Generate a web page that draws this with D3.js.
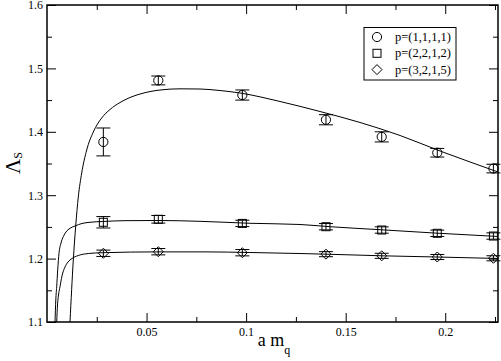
<!DOCTYPE html>
<html>
<head>
<meta charset="utf-8">
<script src="https://cdn.jsdelivr.net/npm/d3@7"></script>
<style>
  body { margin: 0; background: #fff; }
  svg { display: block; font-family: "Liberation Serif", "Times New Roman", serif; }
</style>
</head>
<body>
<svg id="chart" width="501" height="361"></svg>
<script>
// quark masses (x) shared by all three momenta
var amq = [0.0283, 0.0559, 0.0981, 0.1401, 0.1681, 0.1960, 0.2242];

var lam111 = [1.384, 1.481, 1.458, 1.419, 1.392, 1.367, 1.342];
var err111 = [0.022, 0.007, 0.008, 0.008, 0.008, 0.0068, 0.0068];
var lam2212 = [1.2573, 1.2620, 1.2555, 1.2503, 1.2451, 1.2399, 1.2356];
var err2212 = [0.009, 0.006, 0.005, 0.005, 0.005, 0.005, 0.005];
var lam3215 = [1.2084, 1.2109, 1.2093, 1.2070, 1.2044, 1.2025, 1.2005];
var err3215 = [0.005, 0.005, 0.005, 0.004, 0.004, 0.004, 0.004];

// fit curves
var fit111x = [0.01155, 0.01321, 0.01441, 0.01572, 0.01743, 0.01994, 0.02325, 0.02747, 0.03164, 0.03667,
  0.04169, 0.04671, 0.05676, 0.0668, 0.07685, 0.08689, 0.09694, 0.11703, 0.13712, 0.15721, 0.1773,
  0.19739, 0.21246, 0.2265];
var fit111y = [1.100, 1.1978, 1.2514, 1.2972, 1.3350, 1.3713, 1.3997, 1.4218, 1.4352, 1.4462,
  1.4541, 1.4596, 1.4659, 1.4678, 1.4675, 1.4651, 1.4612, 1.4478, 1.4320, 1.4147, 1.3942,
  1.3697, 1.3524, 1.3366];
var fit2212x = [0.00402, 0.00442, 0.00487, 0.00537, 0.00603, 0.00703, 0.00819, 0.00954, 0.01155, 0.01406, 0.01758,
  0.0216, 0.02777, 0.03918, 0.0559, 0.07685, 0.10196, 0.12707, 0.14214, 0.16826, 0.19588, 0.2265];
var fit2212y = [1.100, 1.1347, 1.1557, 1.1820, 1.2084, 1.2246, 1.2346, 1.2420, 1.2478, 1.2514, 1.2554,
  1.2573, 1.2585, 1.2598, 1.2601, 1.2588, 1.2557, 1.2538, 1.2503, 1.2454, 1.2401, 1.2349];
var fit3215x = [0.00487, 0.00527, 0.00578, 0.00653, 0.00753, 0.00904, 0.01055, 0.01256, 0.01572, 0.02074,
  0.02777, 0.0559, 0.07936, 0.10196, 0.12707, 0.14214, 0.16826, 0.19588, 0.2265];
var fit3215y = [1.100, 1.1268, 1.1426, 1.1557, 1.1726, 1.1868, 1.1946, 1.2002, 1.2049, 1.2080,
  1.2093, 1.2106, 1.2106, 1.2096, 1.2080, 1.2068, 1.2044, 1.2025, 1.2002];

var xMajor = [0.05, 0.1, 0.15, 0.2];
var xMinor = [0.025, 0.075, 0.125, 0.175, 0.225];
var yMajor = [1.1, 1.2, 1.3, 1.4, 1.5, 1.6];
var yMinor = [1.15, 1.25, 1.35, 1.45, 1.55];
var legendLabels = ["p=(1,1,1,1)", "p=(2,2,1,2)", "p=(3,2,1,5)"];

var svg = d3.select("#chart");
var plotL = 47, plotR = 498, plotT = 5, plotB = 322;

var x = d3.scaleLinear().domain([0, 0.2265]).range([plotL, plotR]);
var y = d3.scaleLinear().domain([1.1, 1.6]).range([plotB, plotT]);

svg.append("clipPath").attr("id", "plotclip")
  .append("rect").attr("x", plotL).attr("y", plotT)
  .attr("width", plotR - plotL).attr("height", plotB - plotT);

function zip(xs, ys) {
  return xs.map(function(v, i) { return [v, ys[i]]; });
}

// axes: major and minor ticks pointing inward, mirrored on top/right
function addAxis(axis, tx, ty, labels) {
  var g = svg.append("g")
    .attr("transform", "translate(" + tx + "," + ty + ")")
    .call(axis);
  g.select(".domain").remove();
  g.selectAll("line").attr("stroke", "#000").attr("stroke-width", 1);
  g.selectAll("text").attr("font-size", 12).attr("fill", "#000")
    .attr("font-family", "Liberation Serif, serif");
  if (!labels) g.selectAll("text").remove();
  return g;
}

addAxis(d3.axisBottom(x).tickValues(xMajor).tickSize(-9).tickPadding(5.5).tickFormat(d3.format("")), 0, plotB, true);
addAxis(d3.axisBottom(x).tickValues(xMinor).tickSize(-5), 0, plotB, false);
addAxis(d3.axisTop(x).tickValues(xMajor).tickSize(-9), 0, plotT, false);
addAxis(d3.axisTop(x).tickValues(xMinor).tickSize(-5), 0, plotT, false);
addAxis(d3.axisLeft(y).tickValues(yMajor).tickSize(-9).tickPadding(4).tickFormat(d3.format(".1f")), plotL, 0, true);
addAxis(d3.axisLeft(y).tickValues(yMinor).tickSize(-5), plotL, 0, false);
addAxis(d3.axisRight(y).tickValues(yMajor).tickSize(-9), plotR, 0, false);
addAxis(d3.axisRight(y).tickValues(yMinor).tickSize(-5), plotR, 0, false);

svg.append("rect")
  .attr("x", plotL).attr("y", plotT)
  .attr("width", plotR - plotL).attr("height", plotB - plotT)
  .attr("fill", "none").attr("stroke", "#000").attr("stroke-width", 1.5);

// axis titles
var xt = svg.append("text")
  .attr("x", 274).attr("y", 346)
  .attr("text-anchor", "middle")
  .attr("font-size", 18);
xt.append("tspan").text("a m");
xt.append("tspan").attr("font-size", 12).attr("dy", 8).text("q");

var yt = svg.append("text")
  .attr("transform", "translate(20,174) rotate(-90)")
  .attr("font-size", 21);
yt.append("tspan").text("Λ");
yt.append("tspan").attr("font-size", 12).attr("dy", 2).text("S");

// fit curves
var line = d3.line()
  .x(function(d) { return x(d[0]); })
  .y(function(d) { return y(d[1]); })
  .curve(d3.curveMonotoneX);

var curves = svg.append("g").attr("clip-path", "url(#plotclip)");
[zip(fit111x, fit111y), zip(fit2212x, fit2212y), zip(fit3215x, fit3215y)].forEach(function(pts) {
  curves.append("path")
    .attr("d", line(pts))
    .attr("fill", "none")
    .attr("stroke", "#000")
    .attr("stroke-width", 1);
});

// markers
function drawSymbol(g, shape) {
  if (shape === "circle") {
    g.append("circle").attr("r", 4.6);
  } else if (shape === "square") {
    g.append("rect").attr("x", -4).attr("y", -4).attr("width", 8).attr("height", 8);
  } else {
    g.append("path").attr("d", "M0,-5L5,0L0,5L-5,0Z");
  }
  g.selectAll("circle,rect,path")
    .attr("fill", "none").attr("stroke", "#000").attr("stroke-width", 1);
}

function drawSeries(vals, errs, shape) {
  var data = amq.map(function(a, i) { return { x: a, y: vals[i], e: errs[i] }; });
  var pts = svg.selectAll("g.pt-" + shape)
    .data(data)
    .enter().append("g")
    .attr("class", "pt-" + shape)
    .attr("transform", function(d) { return "translate(" + x(d.x) + "," + y(d.y) + ")"; });

  pts.append("path")
    .attr("d", function(d) {
      var h = y(d.y - d.e) - y(d.y);
      return "M0," + (-h) + "V" + h + "M-7," + (-h) + "H7M-7," + h + "H7";
    })
    .attr("fill", "none").attr("stroke", "#000").attr("stroke-width", 1);

  pts.each(function() { drawSymbol(d3.select(this).append("g"), shape); });
}

drawSeries(lam111, err111, "circle");
drawSeries(lam2212, err2212, "square");
drawSeries(lam3215, err3215, "diamond");

// legend
var shapes = ["circle", "square", "diamond"];
var legend = svg.append("g");
legend.append("rect")
  .attr("x", 364).attr("y", 27.5).attr("width", 92).attr("height", 52.5)
  .attr("fill", "#fff").attr("stroke", "#000").attr("stroke-width", 1);

var items = legend.selectAll("g.legend")
  .data(legendLabels)
  .enter().append("g")
  .attr("class", "legend")
  .attr("transform", function(d, i) { return "translate(377," + (37 + i * 16.3) + ")"; });

items.each(function(d, i) { drawSymbol(d3.select(this), shapes[i]); });

items.append("text")
  .attr("x", 18)
  .attr("dy", ".33em")
  .attr("font-size", 12.5)
  .text(function(d) { return d; });
</script>
</body>
</html>
